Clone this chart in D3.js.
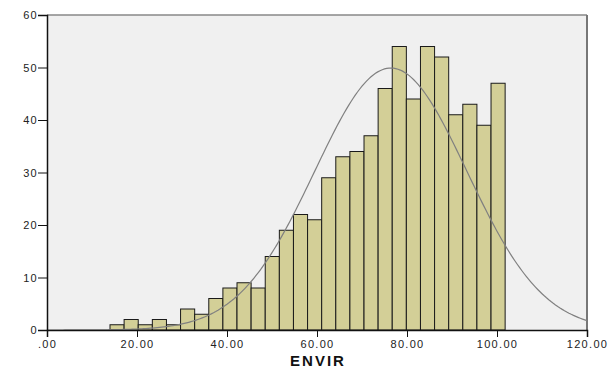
<!DOCTYPE html>
<html lang="en">
<head>
<meta charset="UTF-8">
<title>ENVIR histogram</title>
<script src="https://d3js.org/d3.v7.min.js"></script>
<style>
    body { margin: 0; background: #fff; }
    .tick text { font-family: Arial, "Liberation Sans", sans-serif; font-size: 11px; letter-spacing: 1.3px; fill: #222; }
    .axis-title { font-family: Arial, "Liberation Sans", sans-serif; font-size: 15px; font-weight: bold; letter-spacing: 2px; fill: #111; }
</style>
</head>
<body>
<svg width="616" height="368"></svg>
<script>
    // bin counts
    const counts = [1, 2, 1, 2, 1, 4, 3, 6, 8, 9, 8, 14, 19, 22, 21, 29, 33, 34, 37, 46, 54, 44, 54, 52, 41, 43, 39, 47];
    const binStart = 14.0;
    const binWidth = 3.136;
    const xTicks = [0, 20, 40, 60, 80, 100, 120];
    const yTicks = [0, 10, 20, 30, 40, 50, 60];
    const curveMean = 76.4;
    const curveSd = 16.9;

    const margin = { top: 15, right: 29, bottom: 38, left: 47 };
    const width = 616, height = 368;

    const svg = d3.select("svg");

    const x = d3.scaleLinear().domain([0, 120]).range([margin.left, width - margin.right]);
    const y = d3.scaleLinear().domain([0, 60]).range([height - margin.bottom, margin.top]);

    // plot background + frame
    svg.append("rect")
        .attr("x", x(0)).attr("y", y(60))
        .attr("width", x(120) - x(0)).attr("height", y(0) - y(60))
        .attr("fill", "#f0f0f0");
    svg.append("line")
        .attr("x1", x(0)).attr("x2", x(120)).attr("y1", y(60)).attr("y2", y(60))
        .attr("stroke", "#888").attr("stroke-width", 1.5);
    svg.append("line")
        .attr("x1", x(120)).attr("x2", x(120)).attr("y1", y(60)).attr("y2", y(0))
        .attr("stroke", "#777").attr("stroke-width", 2);

    const bins = counts.map((c, i) => ({ x0: binStart + i * binWidth, x1: binStart + (i + 1) * binWidth, n: c }));

    svg.selectAll(".bar")
        .data(bins)
        .enter().append("rect")
        .attr("class", "bar")
        .attr("x", d => x(d.x0))
        .attr("y", d => y(d.n))
        .attr("width", d => x(d.x1) - x(d.x0))
        .attr("height", d => y(0) - y(d.n))
        .attr("fill", "#d3cf97")
        .attr("stroke", "#1a1a1a")
        .attr("stroke-width", 1);

    // normal curve scaled to counts
    const total = d3.sum(counts);
    const peak = total * binWidth / (curveSd * Math.sqrt(2 * Math.PI));
    const curvePts = d3.range(0, 120.01, 0.5).map(v => [v, peak * Math.exp(-0.5 * ((v - curveMean) / curveSd) ** 2)]);
    svg.append("path")
        .datum(curvePts)
        .attr("fill", "none")
        .attr("stroke", "#808080")
        .attr("stroke-width", 1.2)
        .attr("d", d3.line().x(d => x(d[0])).y(d => y(d[1])));

    const xAxis = d3.axisBottom(x).tickValues(xTicks).tickSize(7).tickFormat(d => d === 0 ? ".00" : d3.format(".2f")(d));
    svg.append("g")
        .attr("transform", `translate(0,${y(0)})`)
        .call(xAxis)
        .call(g => g.select(".domain").attr("stroke", "#111").attr("stroke-width", 1.5))
        .call(g => g.selectAll(".tick line").attr("stroke", "#111"));

    const yAxis = d3.axisLeft(y).tickValues(yTicks).tickSize(9).tickPadding(0);
    svg.append("g")
        .attr("transform", `translate(${x(0)},0)`)
        .call(yAxis)
        .call(g => g.select(".domain").attr("stroke", "#111").attr("stroke-width", 1.5))
        .call(g => g.selectAll(".tick line").attr("stroke", "#111"));

    svg.append("text")
        .attr("class", "axis-title")
        .attr("x", 318).attr("y", 366)
        .attr("text-anchor", "middle")
        .text("ENVIR");
</script>
</body>
</html>
